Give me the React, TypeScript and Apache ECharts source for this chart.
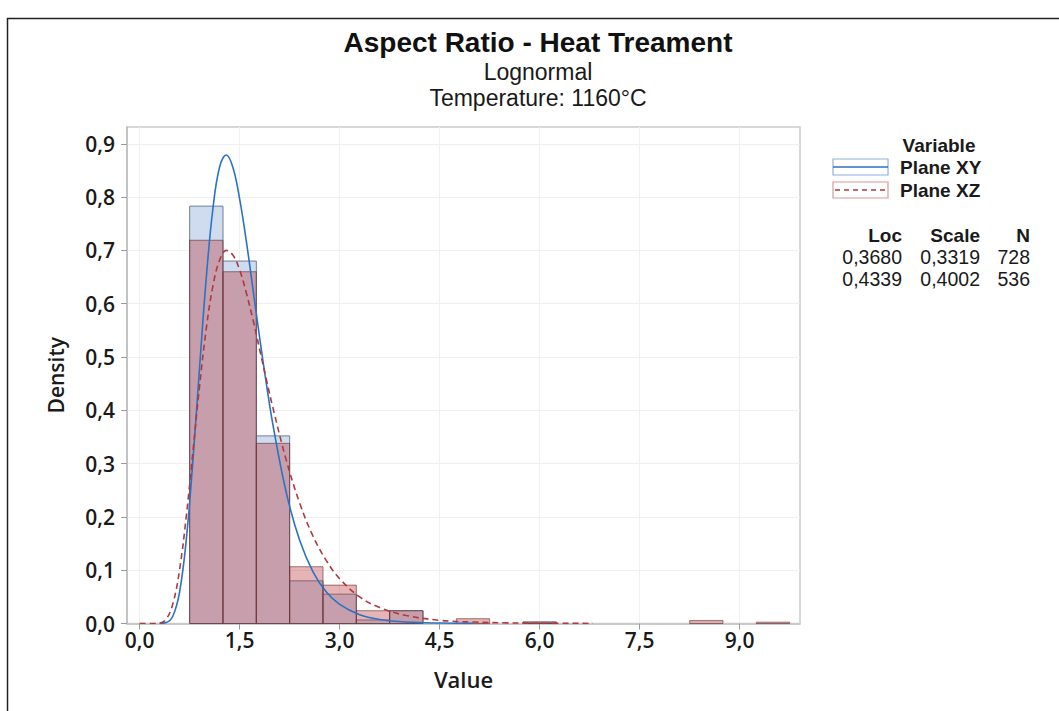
import React, { useEffect, useRef } from "react";
import * as echarts from "echarts";

// ---- Data ----
const binStarts = [0.75, 1.25, 1.75, 2.25, 2.75, 3.25, 3.75, 4.25, 4.75, 5.25, 5.75, 6.25, 6.75, 7.25, 7.75, 8.25, 8.75, 9.25];
const binWidth = 0.5;
const planeXYDensity = [0.783, 0.68, 0.352, 0.08, 0.055, 0.0066, 0.024, 0, 0, 0, 0.0025, 0, 0, 0, 0, 0, 0, 0];
const planeXZDensity = [0.719, 0.66, 0.338, 0.1065, 0.072, 0.024, 0.024, 0, 0.009, 0, 0.003, 0, 0, 0, 0, 0.0055, 0, 0.0025];

const fitXYx = [0.3, 0.4, 0.5, 0.6, 0.7, 0.8, 0.9, 1.0, 1.1, 1.2, 1.3, 1.4, 1.5, 1.6, 1.7, 1.8, 1.9, 2.0, 2.2, 2.4, 2.6, 2.8, 3.0, 3.3, 3.6, 4.0, 4.5, 5.0];
const fitXYy = [0.0001, 0.0017, 0.0145, 0.06, 0.158, 0.308, 0.483, 0.65, 0.78, 0.857, 0.879, 0.855, 0.796, 0.717, 0.627, 0.536, 0.45, 0.372, 0.245, 0.156, 0.097, 0.059, 0.036, 0.0165, 0.0076, 0.0027, 0.0008, 0.0002];

const fitXZx = [0.0, 0.2, 0.3, 0.4, 0.5, 0.6, 0.7, 0.8, 0.9, 1.0, 1.1, 1.2, 1.3, 1.4, 1.5, 1.6, 1.7, 1.8, 1.9, 2.0, 2.2, 2.4, 2.6, 2.8, 3.0, 3.3, 3.6, 4.0, 4.5, 5.0, 5.5, 6.0, 6.8];
const fitXZy = [0, 0.00001, 0.0008, 0.0084, 0.038, 0.102, 0.202, 0.324, 0.447, 0.554, 0.634, 0.682, 0.7, 0.691, 0.663, 0.62, 0.57, 0.514, 0.458, 0.404, 0.306, 0.226, 0.164, 0.118, 0.084, 0.05, 0.03, 0.015, 0.006, 0.0027, 0.0012, 0.0005, 0.0001];

const xTicks = [0, 1.5, 3.0, 4.5, 6.0, 7.5, 9.0];
const yTicks = [0, 0.1, 0.2, 0.3, 0.4, 0.5, 0.6, 0.7, 0.8, 0.9];

const variables = ["Plane XY", "Plane XZ"];
const locs = ["0,3680", "0,4339"];
const scales = ["0,3319", "0,4002"];
const counts = ["728", "536"];

const FONT = "'Open Sans', 'Noto Sans', sans-serif";
const TFONT = "'Liberation Sans', Arial, sans-serif";

function barData(dens: number[]) {
  const out: number[][] = [];
  binStarts.forEach((s, i) => {
    if (dens[i] > 0) out.push([s, s + binWidth, dens[i]]);
  });
  return out;
}

function makeRender(fill: string, stroke: string) {
  return (params: any, api: any) => {
    const x0 = api.value(0);
    const x1 = api.value(1);
    const h = api.value(2);
    const p0 = api.coord([x0, h]);
    const p1 = api.coord([x1, 0]);
    return {
      type: "rect",
      shape: { x: p0[0], y: p0[1], width: p1[0] - p0[0], height: p1[1] - p0[1] },
      style: { fill, stroke, lineWidth: 1 },
    };
  };
}

const comma = (v: number) => v.toFixed(1).replace(".", ",");

export default function App() {
  const ref = useRef<HTMLDivElement>(null);
  useEffect(() => {
    if (!ref.current) return;
    const chart = echarts.init(ref.current, undefined, { renderer: "svg" });
    const legendTextStyle = { fontFamily: TFONT, fontSize: 19, fill: "#1a1a1a" };
    const numStyle = { fontFamily: TFONT, fontSize: 19.5, fill: "#1a1a1a" };
    chart.setOption({
      animation: false,
      backgroundColor: "#ffffff",
      grid: { left: 127, top: 127, right: 259, bottom: 87.5, show: true, borderColor: "#cccccc", borderWidth: 1.5, backgroundColor: "transparent" },
      xAxis: {
        type: "value",
        min: -0.19,
        max: 9.905,
        name: "Value",
        nameLocation: "middle",
        nameGap: 44,
        nameTextStyle: { fontFamily: FONT, fontSize: 22, fontWeight: 600, color: "#1a1a1a" },
        axisLine: { show: true, onZero: false, lineStyle: { color: "#bdbdbd", width: 1.5 } },
        axisTick: { show: true, length: 6, customValues: xTicks, lineStyle: { color: "#9a9a9a" } },
        axisLabel: { customValues: xTicks, formatter: (v: number) => comma(v), fontFamily: FONT, fontSize: 21, fontWeight: 600, color: "#1a1a1a", margin: 6 },
        splitLine: { show: true, lineStyle: { color: "#f0f0f0", width: 1 } },
      },
      yAxis: {
        type: "value",
        min: 0,
        max: 0.9315,
        name: "Density",
        nameLocation: "middle",
        nameGap: 61,
        nameTextStyle: { fontFamily: FONT, fontSize: 21, fontWeight: 600, color: "#1a1a1a" },
        axisLine: { show: true, onZero: false, lineStyle: { color: "#bdbdbd", width: 1.5 } },
        axisTick: { show: true, length: 6, customValues: yTicks, lineStyle: { color: "#9a9a9a" } },
        axisLabel: { customValues: yTicks, formatter: (v: number) => comma(v), fontFamily: FONT, fontSize: 21, fontWeight: 600, color: "#1a1a1a", margin: 12 },
        splitLine: { show: true, lineStyle: { color: "#f0f0f0", width: 1 } },
      },
      series: [
        {
          type: "custom",
          name: "Plane XY bars",
          renderItem: makeRender("#cfdcef", "#6f7f98"),
          encode: { x: [0, 1], y: 2 },
          data: barData(planeXYDensity),
          z: 2,
          silent: true,
        },
        {
          type: "custom",
          name: "Plane XZ bars",
          renderItem: makeRender("rgba(187,52,55,0.37)", "rgba(95,45,50,0.6)"),
          encode: { x: [0, 1], y: 2 },
          data: barData(planeXZDensity),
          z: 3,
          silent: true,
        },
        {
          type: "line",
          name: "Plane XY",
          data: fitXYx.map((x, i) => [x, fitXYy[i]]),
          smooth: 0.4,
          showSymbol: false,
          lineStyle: { color: "#2a72c6", width: 1.6, type: "solid" },
          z: 5,
          silent: true,
        },
        {
          type: "line",
          name: "Plane XZ",
          data: fitXZx.map((x, i) => [x, fitXZy[i]]),
          smooth: 0.4,
          showSymbol: false,
          lineStyle: { color: "#b0393d", width: 1.6, type: [6, 4] },
          z: 5,
          silent: true,
        },
      ],
      graphic: [
        { type: "rect", shape: { x: 7.5, y: 18.5, width: 1200, height: 900 }, style: { fill: "none", stroke: "#222", lineWidth: 1.5 }, silent: true },
        { type: "text", x: 538, y: 42.5, style: { text: "Aspect Ratio - Heat Treament", fontFamily: TFONT, fontSize: 28, fontWeight: "bold", fill: "#111", textAlign: "center", textVerticalAlign: "middle" } },
        { type: "text", x: 538, y: 71.5, style: { text: "Lognormal", fontFamily: TFONT, fontSize: 23, fill: "#1a1a1a", textAlign: "center", textVerticalAlign: "middle" } },
        { type: "text", x: 538, y: 97.5, style: { text: "Temperature: 1160°C", fontFamily: TFONT, fontSize: 23, fill: "#1a1a1a", textAlign: "center", textVerticalAlign: "middle" } },
        // legend
        { type: "text", x: 939, y: 145, style: { text: "Variable", ...legendTextStyle, fontWeight: "bold", textAlign: "center", textVerticalAlign: "middle" } },
        { type: "rect", shape: { x: 833, y: 159, width: 55, height: 16 }, style: { fill: "#fff", stroke: "#8fb0dc", lineWidth: 1.2 } },
        { type: "line", shape: { x1: 833, y1: 167, x2: 888, y2: 167 }, style: { stroke: "#2a72c6", lineWidth: 1.6 } },
        { type: "rect", shape: { x: 833, y: 182, width: 55, height: 16 }, style: { fill: "#fff", stroke: "#d69a9c", lineWidth: 1.2 } },
        { type: "line", shape: { x1: 835, y1: 190, x2: 888, y2: 190 }, style: { stroke: "#b0393d", lineWidth: 1.4, lineDash: [5, 4] } },
        { type: "text", x: 900, y: 167.5, style: { text: variables[0], ...legendTextStyle, fontWeight: "bold", textAlign: "left", textVerticalAlign: "middle" } },
        { type: "text", x: 900, y: 190, style: { text: variables[1], ...legendTextStyle, fontWeight: "bold", textAlign: "left", textVerticalAlign: "middle" } },
        { type: "text", x: 902, y: 235, style: { text: "Loc", ...legendTextStyle, fontWeight: "bold", textAlign: "right", textVerticalAlign: "middle" } },
        { type: "text", x: 980, y: 235, style: { text: "Scale", ...legendTextStyle, fontWeight: "bold", textAlign: "right", textVerticalAlign: "middle" } },
        { type: "text", x: 1030, y: 235, style: { text: "N", ...legendTextStyle, fontWeight: "bold", textAlign: "right", textVerticalAlign: "middle" } },
        ...[0, 1].flatMap((i) => [
          { type: "text", x: 902, y: 257 + i * 22, style: { text: locs[i], ...numStyle, textAlign: "right", textVerticalAlign: "middle" } },
          { type: "text", x: 980, y: 257 + i * 22, style: { text: scales[i], ...numStyle, textAlign: "right", textVerticalAlign: "middle" } },
          { type: "text", x: 1030, y: 257 + i * 22, style: { text: counts[i], ...numStyle, textAlign: "right", textVerticalAlign: "middle" } },
        ]),
      ],
    });
    return () => chart.dispose();
  }, []);
  return <div ref={ref} style={{ position: "absolute", left: 0, top: 0, width: 1059, height: 711 }} />;
}
